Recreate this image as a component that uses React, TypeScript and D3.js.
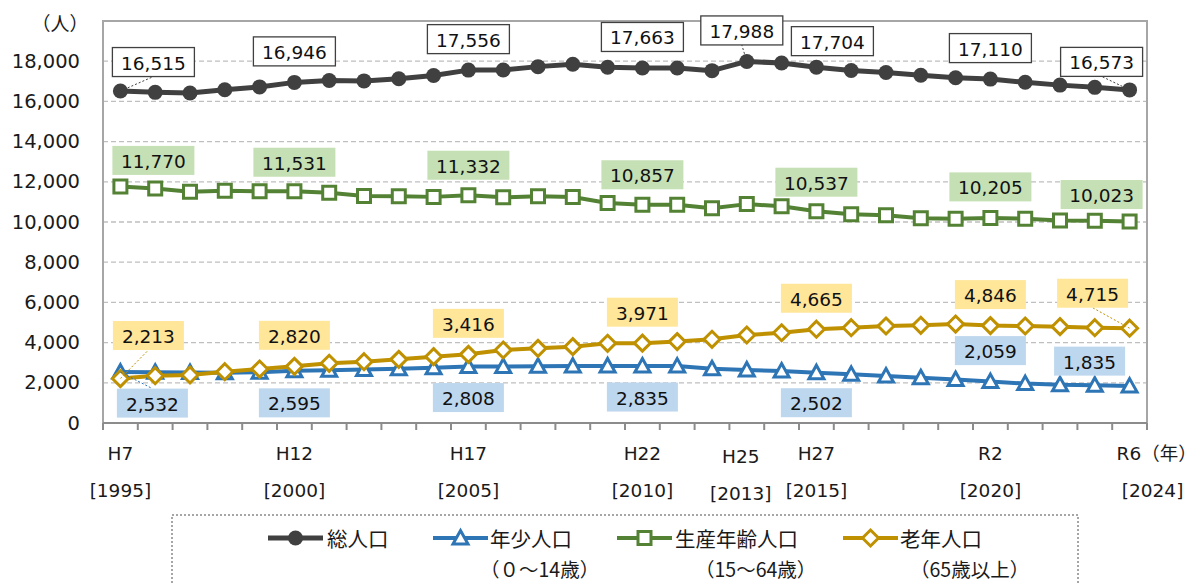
import React from "react";
import * as d3 from "d3";

// categories (years) and population series (人)
const years = [
  "1995", "1996", "1997", "1998", "1999", "2000", "2001", "2002", "2003", "2004",
  "2005", "2006", "2007", "2008", "2009", "2010", "2011", "2012", "2013", "2014",
  "2015", "2016", "2017", "2018", "2019", "2020", "2021", "2022", "2023", "2024",
];
const totalPop = [
  16515, 16450, 16420, 16580, 16720, 16946, 17040, 17020, 17130, 17290,
  17556, 17560, 17730, 17850, 17700, 17663, 17660, 17530, 17988, 17910,
  17704, 17540, 17440, 17300, 17180, 17110, 16950, 16810, 16700, 16573,
];
const youngPop = [
  2532, 2520, 2510, 2500, 2530, 2595, 2620, 2660, 2700, 2750,
  2808, 2810, 2820, 2830, 2840, 2835, 2830, 2700, 2640, 2585,
  2502, 2420, 2340, 2250, 2160, 2059, 1960, 1900, 1880, 1835,
];
const workingPop = [
  11770, 11670, 11510, 11560, 11530, 11531, 11460, 11290, 11280, 11250,
  11332, 11230, 11280, 11240, 10950, 10857, 10860, 10680, 10890, 10780,
  10537, 10380, 10330, 10190, 10160, 10205, 10160, 10080, 10060, 10023,
];
const elderlyPop = [
  2213, 2353, 2388, 2552, 2686, 2820, 2970, 3050, 3167, 3300,
  3416, 3632, 3715, 3797, 3965, 3971, 4050, 4164, 4378, 4490,
  4665, 4741, 4826, 4860, 4925, 4846, 4826, 4793, 4741, 4715,
];

const yTicks = [0, 2000, 4000, 6000, 8000, 10000, 12000, 14000, 16000, 18000];
const xLabelIndex = [0, 5, 10, 15, 18, 20, 25, 29];
const xLabelsTop = ["H7", "H12", "H17", "H22", "H25", "H27", "R2", "R6（年）"];
const xLabelsBottom = ["[1995]", "[2000]", "[2005]", "[2010]", "[2013]", "[2015]", "[2020]", "[2024]"];

const W = 1204;
const H = 583;
const plot = { left: 103, right: 1147, top: 21, bottom: 423 };

const NUM_FONT = "'DejaVu Sans', 'Noto Sans CJK JP', sans-serif";
const JP_FONT = "'Noto Sans CJK JP', 'DejaVu Sans', sans-serif";

type Series = {
  name: string;
  sub?: string;
  values: number[];
  color: string;
  labelFill: string;
  labelStroke?: string;
  width: number;
  marker: "circle" | "triangle" | "square" | "diamond";
  // label placement: index, offsets of box centre from point, leader line
  labels: { i: number; dx: number; dy: number; leader?: boolean }[];
};

const series: Series[] = [
  {
    name: "総人口",
    values: totalPop,
    color: "#404040",
    labelFill: "#ffffff",
    labelStroke: "#404040",
    width: 5,
    marker: "circle",
    labels: [
      { i: 0, dx: 33, dy: -29, leader: true },
      { i: 5, dx: 0, dy: -31 },
      { i: 10, dx: 0, dy: -31 },
      { i: 15, dx: 0, dy: -31 },
      { i: 18, dx: -5, dy: -31, leader: true },
      { i: 20, dx: 16, dy: -26 },
      { i: 25, dx: 0, dy: -31 },
      { i: 29, dx: -28, dy: -28, leader: true },
    ],
  },
  {
    name: "年少人口",
    sub: "（０～14歳）",
    values: youngPop,
    color: "#2e75b6",
    labelFill: "#bdd7ee",
    width: 4,
    marker: "triangle",
    labels: [
      { i: 0, dx: 32, dy: 31, leader: true },
      { i: 5, dx: 0, dy: 32 },
      { i: 10, dx: 0, dy: 31 },
      { i: 15, dx: 0, dy: 31 },
      { i: 20, dx: 0, dy: 30 },
      { i: 25, dx: 0, dy: -31 },
      { i: 29, dx: -40, dy: -25 },
    ],
  },
  {
    name: "生産年齢人口",
    sub: "（15～64歳）",
    values: workingPop,
    color: "#548235",
    labelFill: "#c5e0b4",
    width: 4,
    marker: "square",
    labels: [
      { i: 0, dx: 33, dy: -26 },
      { i: 5, dx: 0, dy: -29 },
      { i: 10, dx: 0, dy: -30 },
      { i: 15, dx: 0, dy: -30 },
      { i: 20, dx: 0, dy: -29 },
      { i: 25, dx: 0, dy: -31 },
      { i: 29, dx: -28, dy: -27 },
    ],
  },
  {
    name: "老年人口",
    sub: "（65歳以上）",
    values: elderlyPop,
    color: "#bf9000",
    labelFill: "#ffe699",
    width: 4,
    marker: "diamond",
    labels: [
      { i: 0, dx: 28, dy: -43, leader: true },
      { i: 5, dx: 0, dy: -31 },
      { i: 10, dx: 0, dy: -31 },
      { i: 15, dx: 0, dy: -31 },
      { i: 20, dx: 0, dy: -31 },
      { i: 25, dx: 0, dy: -31 },
      { i: 29, dx: -37, dy: -35, leader: true },
    ],
  },
];

const fmt = d3.format(",");

function Marker({ type, x, y, color }: { type: string; x: number; y: number; color: string }) {
  if (type === "circle") return <circle cx={x} cy={y} r={7.5} fill={color} />;
  let d = "";
  if (type === "triangle") d = "M0,-7.5L7.5,6L-7.5,6Z";
  if (type === "square") d = "M-6.5,-6.5H6.5V6.5H-6.5Z";
  if (type === "diamond") d = "M0,-8L8,0L0,8L-8,0Z";
  return (
    <path
      d={d}
      transform={`translate(${x},${y})`}
      fill="#ffffff"
      stroke={color}
      strokeWidth={3}
      strokeLinejoin="miter"
    />
  );
}

export default function App() {
  const x = d3
    .scaleBand<string>()
    .domain(years)
    .range([plot.left, plot.right])
    .padding(0);
  const cx = (i: number) => (x(years[i]) as number) + x.bandwidth() / 2;
  const y = d3.scaleLinear().domain([0, 20000]).range([plot.bottom, plot.top]);

  const line = (vals: number[]) =>
    d3
      .line<number>()
      .x((_, i) => cx(i))
      .y((v) => y(v))(vals) as string;

  const boundaries = years.map((yr) => x(yr) as number).concat([plot.right]);

  const legendItems = [
    { s: series[0], lx: 268, tx: 327, sx: 0 },
    { s: series[1], lx: 433, tx: 490, sx: 480 },
    { s: series[2], lx: 617, tx: 675, sx: 695 },
    { s: series[3], lx: 843, tx: 900, sx: 910 },
  ];

  return (
    <svg
      width={W}
      height={H}
      style={{ position: "absolute", left: 0, top: 0, background: "#fff" }}
    >
      {/* gridlines */}
      {yTicks.slice(1).map((t) => (
        <line
          key={t}
          x1={plot.left}
          x2={plot.right}
          y1={y(t)}
          y2={y(t)}
          stroke="#bfbfbf"
          strokeWidth={1.3}
          strokeDasharray="5,3"
        />
      ))}
      {/* plot border */}
      <rect
        x={plot.left}
        y={plot.top}
        width={plot.right - plot.left}
        height={plot.bottom - plot.top}
        fill="none"
        stroke="#a6a6a6"
        strokeWidth={2}
      />
      {/* x axis + ticks */}
      <line x1={plot.left} x2={plot.right} y1={plot.bottom} y2={plot.bottom} stroke="#8c8c8c" strokeWidth={2} />
      {boundaries.map((b, i) => (
        <line key={i} x1={b} x2={b} y1={plot.bottom} y2={plot.bottom + 7} stroke="#8c8c8c" strokeWidth={2} />
      ))}
      {/* y axis labels */}
      {yTicks.map((t) => (
        <text
          key={t}
          x={80}
          y={y(t)}
          textAnchor="end"
          dominantBaseline="central"
          fontFamily={NUM_FONT}
          fontSize={19.5}
          fill="#1a1a1a"
        >
          {fmt(t)}
        </text>
      ))}
      <text x={60} y={22} textAnchor="middle" dominantBaseline="central" fontFamily={JP_FONT} fontSize={19} fill="#1a1a1a">
        （人）
      </text>
      {/* x labels */}
      {xLabelIndex.map((idx, k) => {
        const px = cx(idx);
        const last = k === xLabelIndex.length - 1;
        const shift = xLabelsTop[k] === "H25" ? -6 : 0;
        const dropY = xLabelsTop[k] === "H25" ? 3 : 0;
        return (
          <g key={idx} fontFamily={NUM_FONT} fontSize={18.5} fill="#1a1a1a">
            <text
              x={last ? px - 13 : px + shift}
              y={453 + dropY}
              textAnchor={last ? "start" : "middle"}
              dominantBaseline="central"
            >
              {xLabelsTop[k]}
            </text>
            <text
              x={last ? px + 23 : px + shift}
              y={490 + dropY}
              textAnchor="middle"
              dominantBaseline="central"
            >
              {xLabelsBottom[k]}
            </text>
          </g>
        );
      })}
      {/* series lines */}
      {series.map((s) => (
        <path key={s.name} d={line(s.values)} fill="none" stroke={s.color} strokeWidth={s.width} strokeLinejoin="round" />
      ))}
      {/* markers */}
      {series.map((s) => (
        <g key={s.name + "m"}>
          {s.values.map((v, i) => (
            <Marker key={i} type={s.marker} x={cx(i)} y={y(v)} color={s.color} />
          ))}
        </g>
      ))}
      {/* data labels */}
      {series.map((s) =>
        s.labels.map((lb) => {
          const px = cx(lb.i);
          const py = y(s.values[lb.i]);
          const txt = fmt(s.values[lb.i]);
          const bw = txt.length * 11 + 16;
          const bh = 29;
          const bx = px + lb.dx;
          const by = py + lb.dy;
          const edgeY = lb.dy < 0 ? by + bh / 2 : by - bh / 2;
          return (
            <g key={s.name + lb.i}>
              {lb.leader && (
                <line
                  x1={px}
                  y1={py}
                  x2={bx}
                  y2={edgeY}
                  stroke={s.color}
                  strokeWidth={1}
                  strokeDasharray="2,2"
                />
              )}
              <rect
                x={bx - bw / 2}
                y={by - bh / 2}
                width={bw}
                height={bh}
                fill={s.labelFill}
                stroke={s.labelStroke || "none"}
                strokeWidth={1.3}
              />
              <text
                x={bx}
                y={by + 1}
                textAnchor="middle"
                dominantBaseline="central"
                fontFamily={NUM_FONT}
                fontSize={18.5}
                fill="#111"
              >
                {txt}
              </text>
            </g>
          );
        })
      )}
      {/* legend */}
      <rect
        x={172}
        y={515}
        width={906}
        height={100}
        fill="none"
        stroke="#a6a6a6"
        strokeWidth={2}
        strokeDasharray="2,2"
      />
      {legendItems.map(({ s, lx, tx, sx }) => (
        <g key={s.name + "lg"}>
          <line x1={lx} x2={lx + 55} y1={538} y2={538} stroke={s.color} strokeWidth={s.width} />
          <Marker type={s.marker} x={lx + 27.5} y={538} color={s.color} />
          <text x={tx} y={538} dominantBaseline="central" fontFamily={JP_FONT} fontSize={20.5} fill="#1a1a1a">
            {s.name}
          </text>
          {s.sub && (
            <text
              x={sx}
              y={568}
              dominantBaseline="central"
              fontFamily={JP_FONT}
              fontSize={19.5}
              fill="#1a1a1a"
            >
              {s.sub}
            </text>
          )}
        </g>
      ))}
    </svg>
  );
}
